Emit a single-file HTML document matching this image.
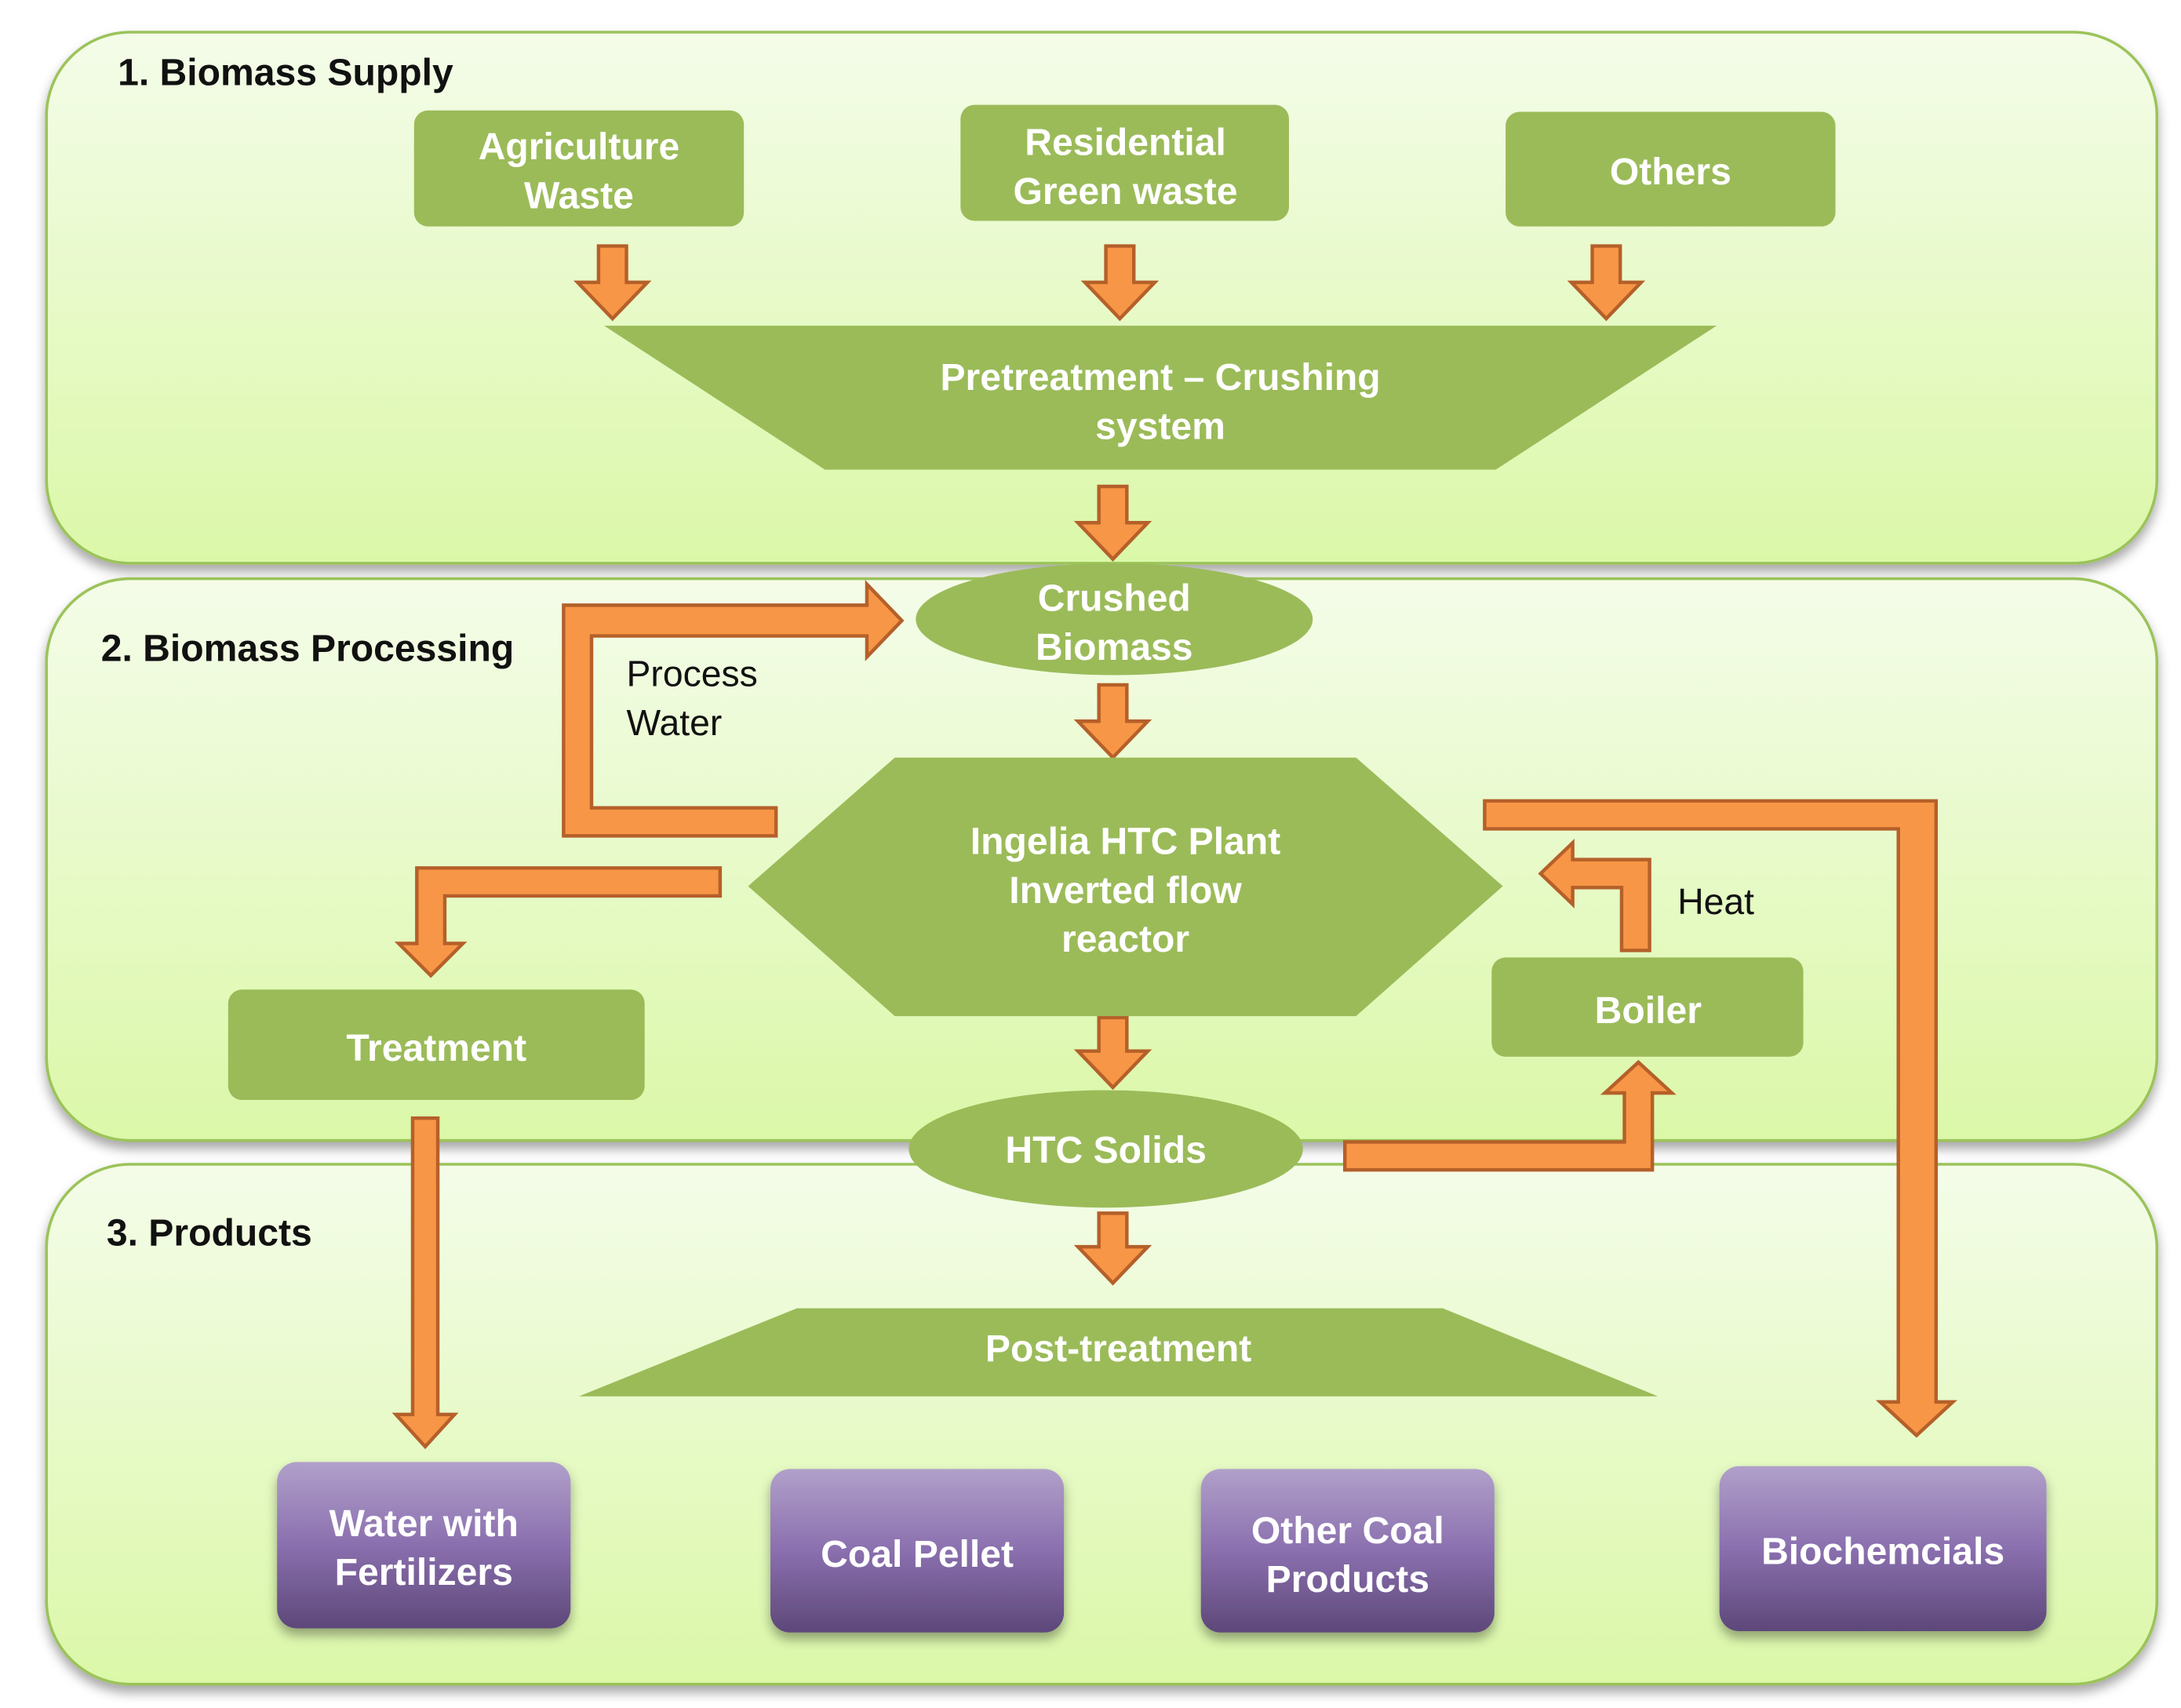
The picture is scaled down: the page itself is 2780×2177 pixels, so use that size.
<!DOCTYPE html>
<html><head><meta charset="utf-8">
<style>
html,body{margin:0;padding:0;background:#fff;}
svg{display:block;}
.t{font-family:"Liberation Sans",sans-serif;font-weight:bold;fill:#fff;font-size:27px;text-anchor:middle;}
.h{font-family:"Liberation Sans",sans-serif;font-weight:bold;fill:#111;font-size:27px;}
.n{font-family:"Liberation Sans",sans-serif;fill:#111;font-size:26px;}
.ar{fill:#f79646;stroke:#b5602a;stroke-width:2.5;stroke-linejoin:miter;}
</style></head>
<body>
<svg width="2780" height="2177" viewBox="0 0 1560 1222" xmlns="http://www.w3.org/2000/svg">
<defs>
<linearGradient id="pg" x1="0" y1="0" x2="0" y2="1">
<stop offset="0" stop-color="#f4fce9"/><stop offset="1" stop-color="#dbf8a8"/></linearGradient>
<linearGradient id="pu" x1="0" y1="0" x2="0" y2="1">
<stop offset="0" stop-color="#b1a0ca"/><stop offset="0.5" stop-color="#8a6fae"/><stop offset="1" stop-color="#5d4879"/></linearGradient>
<filter id="sh" x="-5%" y="-5%" width="110%" height="115%"><feDropShadow dx="0" dy="5" stdDeviation="4" flood-color="#000" flood-opacity="0.35"/></filter>
</defs>
<rect x="33" y="23" width="1510" height="380" rx="60" fill="url(#pg)" stroke="#9bc35a" stroke-width="2" filter="url(#sh)"/>
<rect x="33" y="414" width="1510" height="402" rx="60" fill="url(#pg)" stroke="#9bc35a" stroke-width="2" filter="url(#sh)"/>
<rect x="33" y="833" width="1510" height="372" rx="60" fill="url(#pg)" stroke="#9bc35a" stroke-width="2" filter="url(#sh)"/>

<text class="h" x="84" y="61">1. Biomass Supply</text>
<text class="h" x="72" y="473">2. Biomass Processing</text>
<text class="h" x="76" y="891">3. Products</text>

<rect x="296" y="79" width="236" height="83" rx="10" fill="#9bbb59"/>
<text class="t" x="414" y="114">Agriculture</text><text class="t" x="414" y="149">Waste</text>
<rect x="687" y="75" width="235" height="83" rx="10" fill="#9bbb59"/>
<text class="t" x="805" y="111">Residential</text><text class="t" x="805" y="146">Green waste</text>
<rect x="1077" y="80" width="236" height="82" rx="10" fill="#9bbb59"/>
<text class="t" x="1195" y="132">Others</text>

<g class="ar">
<polygon points="428,176 448,176 448,202 463,202 438,228 413,202 428,202"/>
<polygon points="791,176 811,176 811,202 826,202 801,228 776,202 791,202"/>
<polygon points="1139,176 1159,176 1159,202 1174,202 1149,228 1124,202 1139,202"/>
<polygon points="786,348 806,348 806,374 821,374 796,400 771,374 786,374"/>
<polygon points="786,490 806,490 806,516 821,516 796,542 771,516 786,516"/>
<polygon points="786,728 806,728 806,752 821,752 796,778 771,752 786,752"/>
<polygon points="786,868 806,868 806,892 821,892 796,918 771,892 786,892"/>
</g>

<polygon points="432,233 1228,233 1070,336 590,336" fill="#9bbb59"/>
<text class="t" x="830" y="279">Pretreatment – Crushing</text>
<text class="t" x="830" y="314">system</text>

<ellipse cx="797" cy="443" rx="142" ry="40" fill="#9bbb59"/>
<text class="t" x="797" y="437">Crushed</text><text class="t" x="797" y="472">Biomass</text>

<polygon points="535,634 640,542 970,542 1075,634 970,727 640,727" fill="#9bbb59"/>
<text class="t" x="805" y="611">Ingelia HTC Plant</text>
<text class="t" x="805" y="646">Inverted flow</text>
<text class="t" x="805" y="681">reactor</text>

<ellipse cx="791" cy="822" rx="141" ry="42" fill="#9bbb59"/>
<text class="t" x="791" y="832">HTC Solids</text>

<polygon points="570,936 1032,936 1186,999 414,999" fill="#9bbb59"/>
<text class="t" x="800" y="974">Post-treatment</text>

<rect x="163" y="708" width="298" height="79" rx="10" fill="#9bbb59"/>
<text class="t" x="312" y="759">Treatment</text>
<rect x="1067" y="685" width="223" height="71" rx="10" fill="#9bbb59"/>
<text class="t" x="1179" y="732">Boiler</text>

<g class="ar">
<polygon points="555,578 423,578 423,455 620,455 620,470 645,444 620,418 620,433 403,433 403,598 555,598"/>
<polygon points="515,621 298,621 298,675 285,675 308,698 331,675 318,675 318,641 515,641"/>
<polygon points="295,800 313,800 313,1012 325,1012 304,1035 283,1012 295,1012"/>
<polygon points="1180,680 1160,680 1160,635 1125,635 1125,647 1102,625 1125,603 1125,615 1180,615"/>
<polygon points="962,817 1162,817 1162,782 1148,782 1172,760 1196,782 1182,782 1182,837 962,837"/>
<polygon points="1062,573 1385,573 1385,1003 1397,1003 1371,1027 1345,1003 1358,1003 1358,593 1062,593"/>
</g>

<text class="n" x="448" y="491">Process</text>
<text class="n" x="448" y="526">Water</text>
<text class="n" x="1200" y="654">Heat</text>

<g filter="url(#sh)">
<rect x="198" y="1046" width="210" height="119" rx="14" fill="url(#pu)"/>
<rect x="551" y="1051" width="210" height="117" rx="14" fill="url(#pu)"/>
<rect x="859" y="1051" width="210" height="117" rx="14" fill="url(#pu)"/>
<rect x="1230" y="1049" width="234" height="118" rx="14" fill="url(#pu)"/>
</g>
<text class="t" x="303" y="1099">Water with</text><text class="t" x="303" y="1134">Fertilizers</text>
<text class="t" x="656" y="1121">Coal Pellet</text>
<text class="t" x="964" y="1104">Other Coal</text><text class="t" x="964" y="1139">Products</text>
<text class="t" x="1347" y="1119">Biochemcials</text>
</svg>
</body></html>
